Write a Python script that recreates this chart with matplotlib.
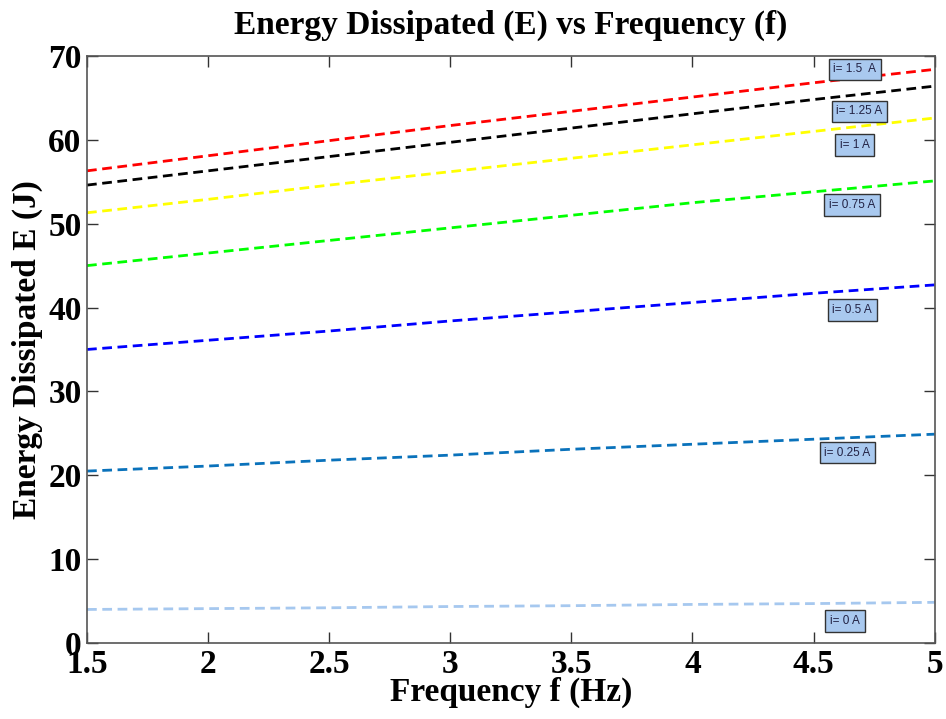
import matplotlib
matplotlib.use("Agg")
import matplotlib.pyplot as plt

freq = [1.5, 2.0, 2.5, 3.0, 3.5, 4.0, 4.5, 5.0]
E_i150 = [56.3, 58.1, 59.9, 61.7, 63.4, 65.1, 66.8, 68.4]
E_i125 = [54.6, 56.3, 58.0, 59.7, 61.4, 63.1, 64.8, 66.4]
E_i100 = [51.3, 52.9, 54.6, 56.2, 57.8, 59.4, 61.0, 62.6]
E_i075 = [45.0, 46.5, 48.0, 49.5, 51.0, 52.5, 53.8, 55.1]
E_i050 = [35.0, 36.1, 37.2, 38.4, 39.5, 40.6, 41.7, 42.7]
E_i025 = [20.5, 21.1, 21.8, 22.4, 23.1, 23.7, 24.3, 24.9]
E_i000 = [4.0, 4.1, 4.2, 4.35, 4.45, 4.6, 4.7, 4.85]

labels = ["i= 1.5  A", "i= 1.25 A", "i= 1 A", "i= 0.75 A", "i= 0.5 A", "i= 0.25 A", "i= 0 A"]
label_x = [4.67, 4.69, 4.67, 4.66, 4.66, 4.64, 4.63]
label_y = [68.4, 63.4, 59.4, 52.2, 39.7, 22.7, 2.6]
series = [E_i150, E_i125, E_i100, E_i075, E_i050, E_i025, E_i000]
colors = ["#ff0000", "#000000", "#ffff00", "#00ff00", "#0000ff", "#0a72bb", "#a6c8ef"]

serif = ["Liberation Serif", "DejaVu Serif"]

fig = plt.figure(figsize=(9.46, 7.19), dpi=100)
ax = fig.add_axes([0.092, 0.1057, 0.896, 0.8165])

for vals, c in zip(series, colors):
    ax.plot(freq, vals, color=c, linestyle=(0, (3.5, 2)), linewidth=2)

for lx, ly, lab in zip(label_x, label_y, labels):
    ax.text(lx, ly, lab, fontsize=8.5, family=["Liberation Sans", "DejaVu Sans"],
            ha="center", va="center", color="#222244",
            bbox=dict(boxstyle="square,pad=0.4", facecolor="#a9c9ef", edgecolor="#333333", linewidth=1.0))

ax.set_xlim(1.5, 5)
ax.set_ylim(0, 70)
ax.set_xticks([1.5, 2, 2.5, 3, 3.5, 4, 4.5, 5])
ax.set_xticklabels(["1.5", "2", "2.5", "3", "3.5", "4", "4.5", "5"])
ax.set_yticks(range(0, 71, 10))
ax.tick_params(direction="in", top=True, right=True, length=8, width=1, color="#333333", pad=4)
for lab in ax.get_xticklabels() + ax.get_yticklabels():
    lab.set_fontfamily(serif)
    lab.set_fontweight("bold")
    lab.set_fontsize(24)
for s in ax.spines.values():
    s.set_color("#555555")
    s.set_linewidth(1.2)

ax.set_xlabel("Frequency f (Hz)", fontsize=24, fontweight="bold", family=serif, labelpad=-2)
ax.set_ylabel("Energy Dissipated E (J)", fontsize=24, fontweight="bold", family=serif, labelpad=4)
ax.set_title("Energy Dissipated (E) vs Frequency (f)", fontsize=24, fontweight="bold", family=serif, pad=16)

fig.savefig("out.png", dpi=100)
